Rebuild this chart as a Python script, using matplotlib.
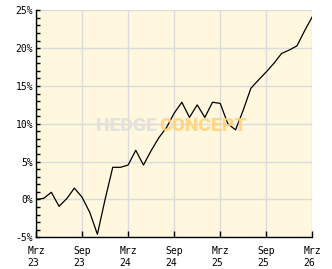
import matplotlib
matplotlib.use("Agg")
import matplotlib.pyplot as plt
from matplotlib.ticker import MultipleLocator
from matplotlib import font_manager

# Monthly performance (%) from Mrz 23 to Mrz 26
values = [0.0, 0.15, 0.95, -0.9, 0.1, 1.5, 0.3, -1.7, -4.6, 0.0,
          4.25, 4.25, 4.55, 6.5, 4.55, 6.45, 8.15, 9.5, 11.4, 12.85,
          10.85, 12.5, 10.85, 12.85, 12.7, 10.0, 9.2, 11.8, 14.7, 15.8,
          16.85, 18.0, 19.3, 19.75, 20.3, 22.3, 24.15]
months = list(range(len(values)))
xtick_pos = [0, 6, 12, 18, 24, 30, 36]
xtick_labels = ["Mrz\n23", "Sep\n23", "Mrz\n24", "Sep\n24", "Mrz\n25", "Sep\n25", "Mrz\n26"]
ytick_vals = [-5, 0, 5, 10, 15, 20, 25]
ytick_labels = [f"{v}%" for v in ytick_vals]

W, H = 332, 269
fig = plt.figure(figsize=(W/100, H/100), dpi=100)
fig.patch.set_facecolor("white")
ax = fig.add_axes([36/W, 1-237.3/H, (312.3-36)/W, (237.3-10.3)/H])
ax.set_facecolor("#FFF7DE")

ax.set_xlim(0, 36)
ax.set_ylim(-5, 25)
ax.set_xticks(xtick_pos)
ax.set_xticklabels(xtick_labels, fontsize=7, family="DejaVu Sans Mono",
                   multialignment="left", linespacing=1.35)
ax.set_yticks(ytick_vals)
ax.set_yticklabels(ytick_labels, fontsize=7, family="DejaVu Sans Mono")
ax.yaxis.set_minor_locator(MultipleLocator(1))

ax.grid(True, which="major", color="#DCDCDC", linewidth=1)
ax.set_axisbelow(True)
for s in ["top", "right"]:
    ax.spines[s].set_visible(False)
for s in ["left", "bottom"]:
    ax.spines[s].set_color("black")
    ax.spines[s].set_linewidth(1)

ax.tick_params(axis="y", which="major", direction="in", length=3, width=1, pad=2)
ax.tick_params(axis="y", which="minor", direction="in", length=3, width=1)
ax.tick_params(axis="x", which="major", direction="in", length=4, width=1, pad=6)

ax.plot(months, values, color="black", linewidth=0.9, zorder=3)

# Watermark font choice
wm_family = "DejaVu Sans"
for cand in ["Liberation Sans Narrow", "DejaVu Sans Condensed", "Roboto"]:
    try:
        font_manager.findfont(font_manager.FontProperties(family=cand), fallback_to_default=False)
        wm_family = cand
        break
    except Exception:
        pass

split = 0.437
t1 = ax.text(split, 0.49, "HEDGE", transform=ax.transAxes, ha="right", va="center",
             fontsize=14, fontweight="heavy", family=wm_family,
             color="#E2E0DA", alpha=0.9, zorder=4)
t2 = ax.text(split + 0.01, 0.49, "CONCEPT", transform=ax.transAxes, ha="left", va="center",
             fontsize=14, fontweight="heavy", family=wm_family,
             color="#FFD27A", alpha=0.85, zorder=4)

# fit watermark width to ~56 px (HEDGE) and ~93 px (CONCEPT)
fig.canvas.draw()
r = fig.canvas.get_renderer()
w1 = t1.get_window_extent(r).width
w2 = t2.get_window_extent(r).width
fs = 14 * (56 + 93) / (w1 + w2)
t1.set_fontsize(fs)
t2.set_fontsize(fs)

fig.savefig("out.png", dpi=100)
